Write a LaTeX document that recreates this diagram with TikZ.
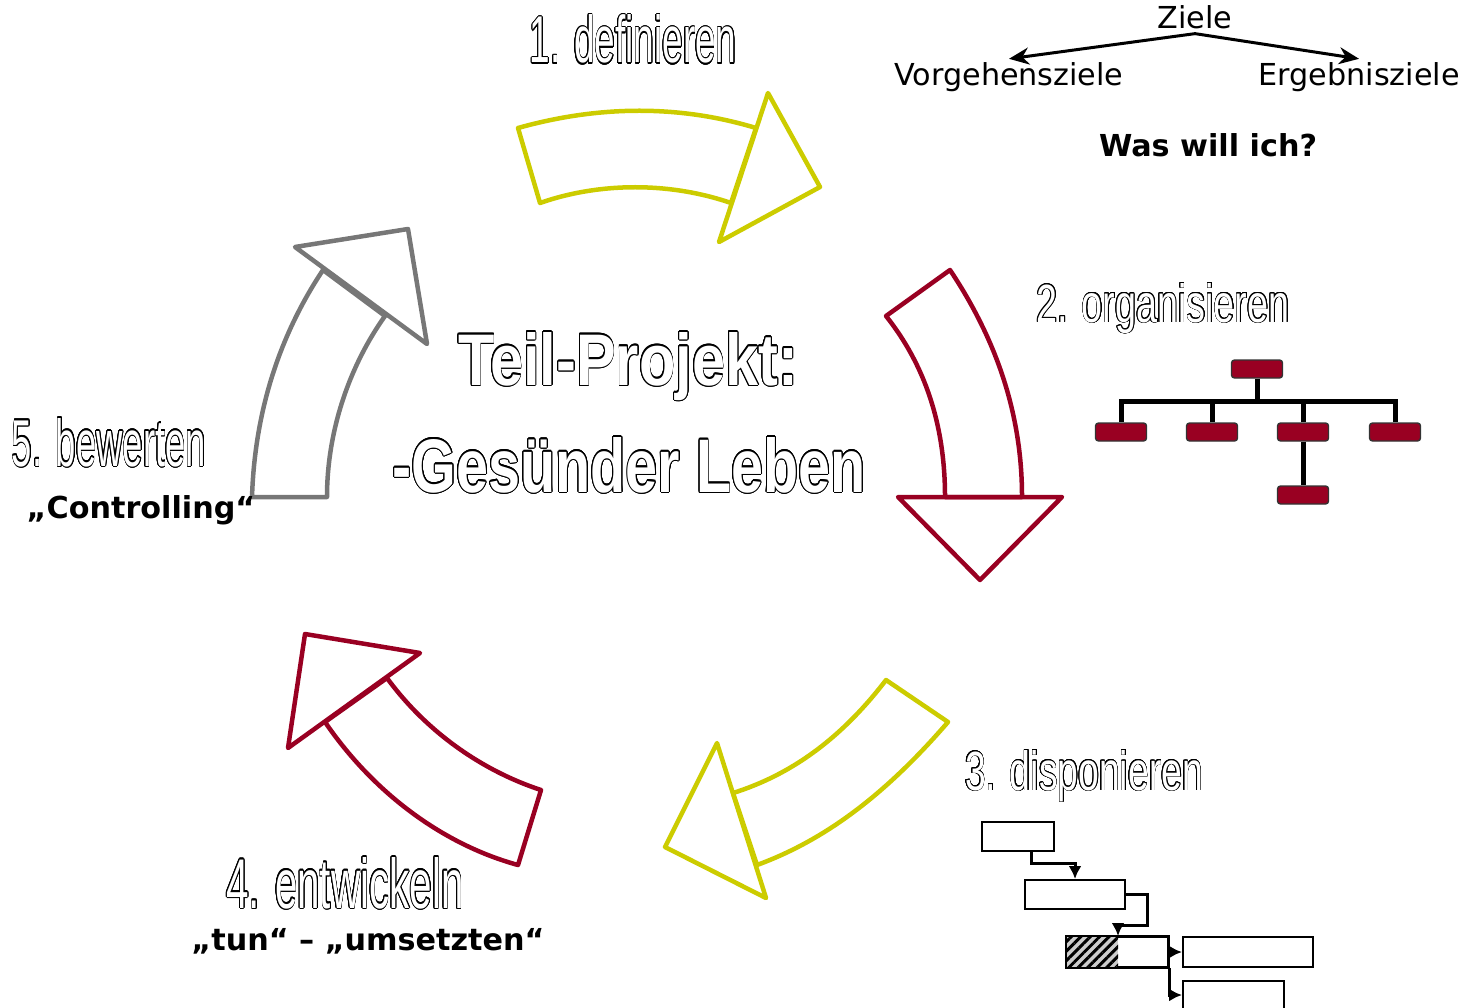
\documentclass[tikz,border=0pt]{standalone}
\usepackage{fontspec}
\setmainfont{DejaVu Sans}
\newfontfamily\stepfont{Liberation Sans}
\usepackage{graphicx}
\usepackage{contour}
\usetikzlibrary{positioning}
\usetikzlibrary{arrows.meta}
\usetikzlibrary{patterns.meta}
\definecolor{arrowyellow}{HTML}{CCCC00}
\definecolor{arrowred}{HTML}{990022}
\definecolor{arrowgray}{HTML}{777777}
\contourlength{0.3pt}
\contournumber{24}
\newcommand{\hollowtext}[3]{\resizebox{#1}{#2}{\color{white}\contour{black}{#3}}}

\begin{document}
\begin{tikzpicture}[x=0.1mm,y=-0.1mm,font=\fontsize{8.6}{10}\selectfont]
        \tikzset{bigarrow/.style={line width=0.45mm,line join=round}}
        \tikzset{steplabel/.style={anchor=base,inner sep=0pt,font=\fontsize{19}{20}\stepfont}}
        \tikzset{titlelabel/.style={anchor=base,inner sep=0pt,font=\fontsize{21}{22}\stepfont\bfseries}}
        \tikzset{goaltext/.style={anchor=base,inner sep=1pt,font=\fontsize{8.6}{10}\selectfont}}
        \tikzset{quote/.style={anchor=base,inner sep=1pt,font=\fontsize{8.6}{10}\selectfont\bfseries}}
        \tikzset{orgbox/.style={draw=black!80,fill=arrowred,rounded corners=0.3mm,minimum width=5.1mm,minimum height=1.8mm,inner sep=0pt}}
        \tikzset{orgline/.style={line width=0.5mm}}
        \tikzset{gbox/.style={draw,line width=0.2mm,inner sep=0pt,anchor=north west,minimum height=2.9mm}}
        \tikzset{glink/.style={line width=0.3mm,-{Latex[length=1.3mm,width=1.3mm]}}}
        \useasboundingbox (0,0) rectangle (1472,1007);
        \clip (0,0) rectangle (1472,1007);

        \draw[bigarrow,draw=arrowyellow] (518,128) .. controls (600,105) and (680,105) .. (756,128) -- (731,203) .. controls (670,182) and (600,182) .. (540,203) -- cycle;
        \draw[bigarrow,draw=arrowyellow] (768,93) -- (820,187) -- (719,242) -- cycle;

        \draw[bigarrow,draw=arrowred] (886,316) -- (950,270) .. controls (1000,345) and (1022,420) .. (1022,497) -- (945,497) .. controls (945,425) and (925,365) .. (886,316) -- cycle;
        \draw[bigarrow,draw=arrowred] (898,497) -- (1062,497) -- (980,580) -- cycle;

        \draw[bigarrow,draw=arrowyellow] (886,680) -- (948,722) .. controls (885,795) and (825,840) .. (757,865) -- (733,793) .. controls (790,775) and (840,740) .. (886,680) -- cycle;
        \draw[bigarrow,draw=arrowyellow] (717,743) -- (665,847) -- (766,898) -- cycle;

        \draw[bigarrow,draw=arrowred] (387,678) .. controls (425,730) and (480,770) .. (541,790) -- (518,865) .. controls (445,845) and (375,795) .. (325,722) -- cycle;
        \draw[bigarrow,draw=arrowred] (305,634) -- (420,653) -- (288,748) -- cycle;

        \draw[bigarrow,draw=arrowgray] (252,497) .. controls (255,405) and (283,330) .. (323,270) -- (385,316) .. controls (350,365) and (327,430) .. (327,497) -- cycle;
        \draw[bigarrow,draw=arrowgray] (295,247) -- (408,229) -- (427,344) -- cycle;

        \node[steplabel] (step1) at (633,63) {\hollowtext{20.7mm}{4.8mm}{1. definieren}};
        \node[steplabel] (step2) at (1163,322) {\hollowtext{25.3mm}{3.9mm}{2. organisieren}};
        \node[steplabel] (step3) at (1084,790) {\hollowtext{23.8mm}{4.0mm}{3. disponieren}};
        \node[steplabel] (step4) at (345,908) {\hollowtext{23.7mm}{5.1mm}{4. entwickeln}};
        \node[steplabel] (step5) at (109,466) {\hollowtext{19.4mm}{4.8mm}{5. bewerten}};

        \node[titlelabel] (title1) at (628,385) {\hollowtext{34mm}{5.3mm}{Teil-Projekt:}};
        \node[titlelabel] (title2) at (629,492) {\hollowtext{47.3mm}{5.5mm}{-Gesünder Leben}};

        \node[goaltext] (ziele) at (1195,29) {Ziele};
        \node[goaltext] (vorg) at (1009,86) {Vorgehensziele};
        \node[goaltext] (erg) at (1359,86) {Ergebnisziele};
        \draw[line width=0.3mm,-{Stealth[length=2mm,width=1.7mm]}] (ziele.south) -- (vorg.north);
        \draw[line width=0.3mm,-{Stealth[length=2mm,width=1.7mm]}] (ziele.south) -- (erg.north);
        \node[quote] (was) at (1208,157) {Was will ich?};
        \node[quote] (contr) at (141,518) {„Controlling“};
        \node[quote] (tun) at (368,950) {„tun“ – „umsetzten“};

        \node[orgbox] (org0) at (1257,369) {};
        \node[orgbox] (org1) at (1121,432) {};
        \node[orgbox] (org2) at (1212,432) {};
        \node[orgbox] (org3) at (1303,432) {};
        \node[orgbox] (org4) at (1395,432) {};
        \node[orgbox] (org5) at (1303,495) {};
        \coordinate (orgbar) at (1257,401);
        \draw[orgline] (org0.south) -- (orgbar);
        \draw[orgline] (org1.north) |- (orgbar) -| (org4.north);
        \draw[orgline] (org2.north) -- (org2.north |- orgbar);
        \draw[orgline] (org3.north) -- (org3.north |- orgbar);
        \draw[orgline] (org3.south) -- (org5.north);

        \node[gbox,minimum width=7.2mm] (ga) at (981,821) {};
        \node[gbox,minimum width=10mm] (gb) at (1024,879) {};
        \node[gbox,minimum width=10.1mm,minimum height=3mm] (gc) at (1066,936) {};
        \node[gbox,minimum width=13mm,minimum height=3mm] (gd) at (1182,936) {};
        \node[gbox,minimum width=10.1mm,minimum height=2.8mm] (ge) at (1182,980) {};
        \fill[gray!40] (gc.north west) rectangle ([xshift=5.2mm]gc.south west);
        \fill[pattern={Lines[angle=45,distance=1.9pt,line width=0.85pt]},pattern color=black] (gc.north west) rectangle ([xshift=5.2mm]gc.south west);
        \draw[line width=0.2mm] (gc.north west) rectangle (gc.south east);
        \draw[glink] ([xshift=1.3mm]ga.south) -- ++(0,11) -| (gb.north);
        \draw[glink] (gb.east) -- ++(21,0) -- ++(0,31) -| ([xshift=5.2mm]gc.north west);
        \draw[glink] (gc.east) -- (gd.west);
        \draw[glink] (gc.south east) |- (ge.west);
\end{tikzpicture}
\end{document}
